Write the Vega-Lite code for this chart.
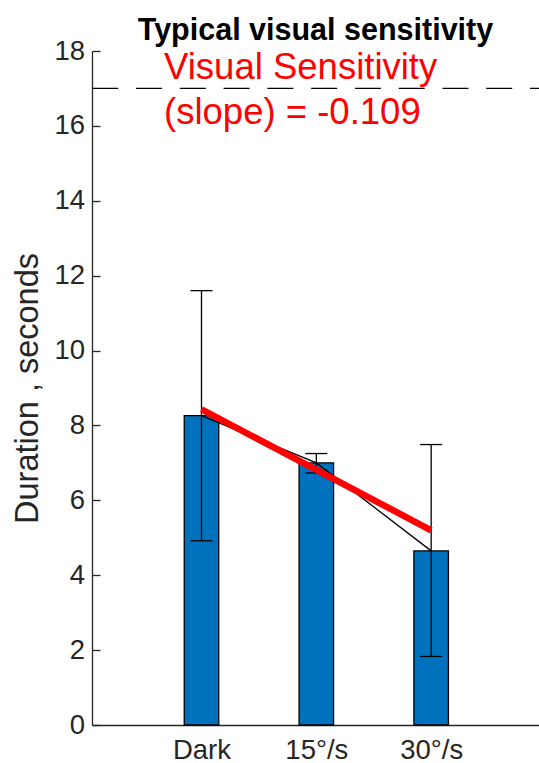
{
  "$schema": "https://vega.github.io/schema/vega-lite/v6.json",
  "width": 447,
  "height": 674,
  "autosize": {"type": "none"},
  "padding": {"left": 92, "top": 51, "right": 0, "bottom": 38},
  "background": "#ffffff",
  "title": {"text": "Typical visual sensitivity", "fontSize": 30.5, "font": "Liberation Sans", "fontWeight": "bold", "color": "#000000", "anchor": "middle", "baseline": "alphabetic", "offset": -33},
  "config": {
    "view": {"stroke": null},
    "axis": {"grid": false, "zindex": 1, "labelFont": "Liberation Sans", "labelFontSize": 27.5, "labelColor": "#262626", "titleFont": "Liberation Sans", "titleFontSize": 32.5, "titleFontWeight": "normal", "titleColor": "#262626", "domainColor": "#262626", "domainWidth": 1.3, "tickColor": "#262626", "tickWidth": 1.3}
  },
  "datasets": {
    "bars": [
      {"x": 1, "y": 8.26, "lo": 4.92, "hi": 11.6, "cond": "Dark"},
      {"x": 2, "y": 7.0, "lo": 6.73, "hi": 7.25, "cond": "15°/s"},
      {"x": 3, "y": 4.65, "lo": 1.83, "hi": 7.49, "cond": "30°/s"}
    ],
    "fit": [{"x": 1, "y": 8.43}, {"x": 3, "y": 5.2}],
    "note": [
      {"x": 0.674, "y": 17.25, "label": "Visual Sensitivity"},
      {"x": 0.674, "y": 16.05, "label": "(slope) = -0.109"}
    ]
  },
  "layer": [
    {
      "data": {"name": "bars"},
      "mark": {"type": "bar", "width": 34.5, "fill": "#0072BD", "stroke": "#000000", "strokeWidth": 1.3},
      "encoding": {
        "x": {"field": "x", "type": "quantitative", "title": null, "scale": {"domain": [0.0466, 3.939], "nice": false, "zero": false, "padding": 0},
          "axis": {"values": [1, 2, 3], "labelExpr": "datum.value == 1 ? 'Dark' : datum.value == 2 ? '15°/s' : '30°/s'", "tickSize": -8, "labelPadding": 41, "labelBaseline": "alphabetic", "labelAngle": 0}},
        "y": {"field": "y", "type": "quantitative", "title": "Duration , seconds", "scale": {"domain": [0, 18], "nice": false, "zero": true, "padding": 0},
          "axis": {"values": [0, 2, 4, 6, 8, 10, 12, 14, 16, 18], "tickSize": -8, "labelPadding": 15.5, "titlePadding": 9}}
      }
    },
    {
      "data": {"name": "bars"},
      "mark": {"type": "rule", "color": "#000000", "strokeWidth": 1.3},
      "encoding": {
        "x": {"field": "x", "type": "quantitative", "title": null},
        "y": {"field": "lo", "type": "quantitative", "title": "Duration , seconds"},
        "y2": {"field": "hi"}
      }
    },
    {
      "data": {"name": "bars"},
      "mark": {"type": "tick", "orient": "horizontal", "color": "#000000", "size": 22, "thickness": 1.3, "opacity": 1},
      "encoding": {
        "x": {"field": "x", "type": "quantitative", "title": null},
        "y": {"field": "hi", "type": "quantitative", "title": "Duration , seconds"}
      }
    },
    {
      "data": {"name": "bars"},
      "mark": {"type": "tick", "orient": "horizontal", "color": "#000000", "size": 22, "thickness": 1.3, "opacity": 1},
      "encoding": {
        "x": {"field": "x", "type": "quantitative", "title": null},
        "y": {"field": "lo", "type": "quantitative", "title": "Duration , seconds"}
      }
    },
    {
      "data": {"name": "bars"},
      "mark": {"type": "line", "color": "#000000", "strokeWidth": 1.3},
      "encoding": {
        "x": {"field": "x", "type": "quantitative", "title": null},
        "y": {"field": "y", "type": "quantitative", "title": "Duration , seconds"}
      }
    },
    {
      "data": {"name": "fit"},
      "mark": {"type": "line", "color": "#FF0000", "strokeWidth": 6.5},
      "encoding": {
        "x": {"field": "x", "type": "quantitative", "title": null},
        "y": {"field": "y", "type": "quantitative", "title": "Duration , seconds"}
      }
    },
    {
      "data": {"values": [{"level": 17}]},
      "mark": {"type": "rule", "color": "#000000", "strokeWidth": 1.3, "strokeDash": [26, 17.77], "strokeDashOffset": 17},
      "encoding": {
        "y": {"field": "level", "type": "quantitative", "title": "Duration , seconds"}
      }
    },
    {
      "data": {"name": "note"},
      "mark": {"type": "text", "align": "left", "baseline": "alphabetic", "color": "#FF0000", "font": "Liberation Sans", "fontSize": 36.5},
      "encoding": {
        "x": {"field": "x", "type": "quantitative", "title": null},
        "y": {"field": "y", "type": "quantitative", "title": "Duration , seconds"},
        "text": {"field": "label"}
      }
    }
  ]
}
